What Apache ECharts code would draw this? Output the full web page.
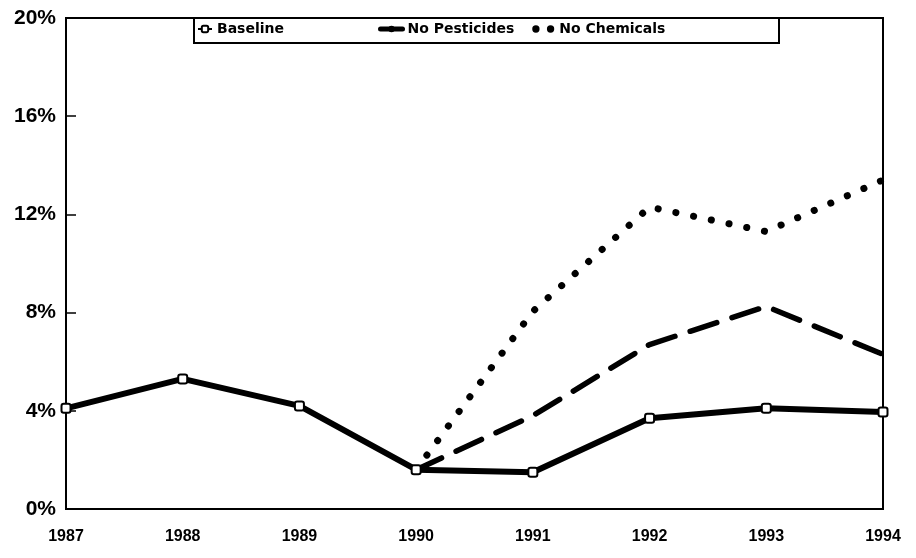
<!DOCTYPE html>
<html>
<head>
<meta charset="utf-8">
<script src="https://cdn.jsdelivr.net/npm/echarts@6/dist/echarts.min.js"></script>
<style>
html,body{margin:0;padding:0;background:#fff;}
#chart{width:916px;height:558px;}
</style>
</head>
<body>
<div id="chart"></div>
<script>
const years = ['1987','1988','1989','1990','1991','1992','1993','1994'];
const baseline = [4.1, 5.3, 4.2, 1.6, 1.5, 3.7, 4.1, 3.95];
const noPesticides = ['-', '-', '-', 1.6, 3.8, 6.7, 8.25, 6.3];
const noChemicals = ['-', '-', '-', 1.6, 8.05, 12.3, 11.3, 13.4];
const yTicks = [0, 4, 8, 12, 16, 20];

const chart = echarts.init(document.getElementById('chart'));
const FONT = '"Liberation Sans", Arial, sans-serif';
const LFONT = '"DejaVu Sans", sans-serif';
const legendText = {fontFamily: LFONT, fontWeight: 'bold', fontSize: 14, color: '#000'};
chart.setOption({
  animation: false,
  backgroundColor: '#fff',
  grid: {left: 66, right: 33, top: 18, bottom: 49, show: true, borderColor: '#000', borderWidth: 2},
  graphic: [{
    type: 'rect', z: 1, left: 193, top: 17,
    shape: {width: 585, height: 25},
    style: {fill: '#fff', stroke: '#000', lineWidth: 2}
  }],
  legend: [{
    left: 197, top: 22, padding: 0,
    itemWidth: 14, itemHeight: 8, z: 5,
    textStyle: legendText,
    data: [{name: 'Baseline'}]
  }, {
    left: 378, top: 22, padding: 0, itemGap: 18,
    itemWidth: 22, itemHeight: 8, z: 5,
    textStyle: legendText,
    data: [
      {name: 'No Pesticides', lineStyle: {type: 'solid', width: 5}},
      {name: 'No Chemicals', icon: 'path://M0,5a5,5 0 1,0 10,0a5,5 0 1,0 -10,0M20,5a5,5 0 1,0 10,0a5,5 0 1,0 -10,0', itemStyle: {color: '#000'}}
    ]
  }],
  xAxis: {
    type: 'category', data: years, boundaryGap: false,
    axisLine: {lineStyle: {color: '#000', width: 2}},
    axisTick: {show: false},
    axisLabel: {fontFamily: FONT, fontWeight: 'bold', fontSize: 16, color: '#000', margin: 20}
  },
  yAxis: {
    type: 'value', min: 0, max: 20, interval: 4,
    axisLine: {show: true, lineStyle: {color: '#000', width: 2}},
    axisTick: {show: true, inside: true, length: 10, lineStyle: {color: '#000', width: 1.5}},
    splitLine: {show: false},
    axisLabel: {fontFamily: FONT, fontWeight: 'bold', fontSize: 21, color: '#000', margin: 10,
      formatter: v => yTicks.includes(v) ? v + '%' : ''}
  },
  series: [
    {name: 'Baseline', type: 'line', data: baseline, z: 5,
      symbol: 'roundRect', symbolSize: 9, showAllSymbol: true,
      itemStyle: {color: '#fff', borderColor: '#000', borderWidth: 2},
      lineStyle: {color: '#000', width: 6}},
    {name: 'No Pesticides', type: 'line', data: noPesticides, z: 4,
      symbol: 'none', color: '#000',
      lineStyle: {color: '#000', width: 5.5, type: [28, 16], cap: 'round'}},
    {name: 'No Chemicals', type: 'line', data: noChemicals, z: 3,
      symbol: 'none', color: '#000',
      lineStyle: {color: '#000', width: 7, type: [0.1, 18], cap: 'round'}}
  ]
});
</script>
</body>
</html>
